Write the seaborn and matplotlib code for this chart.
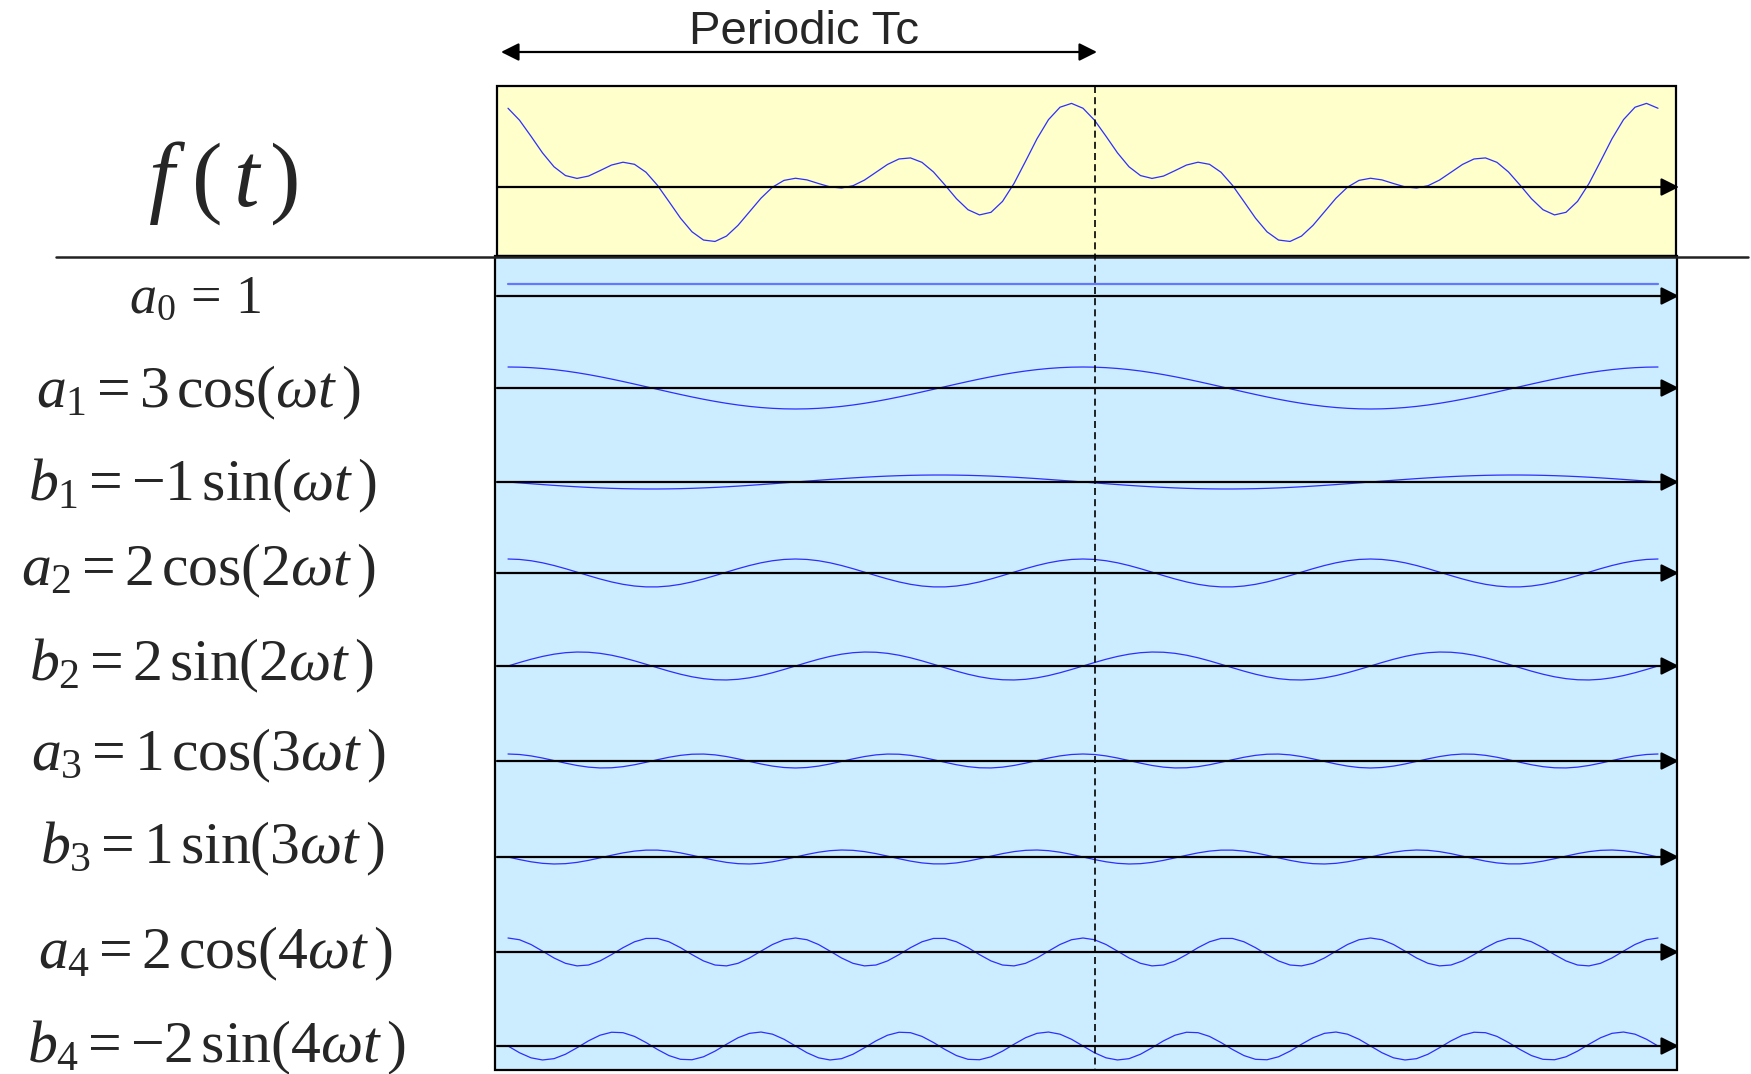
import numpy as np
import pandas as pd
import matplotlib
matplotlib.use("Agg")
import matplotlib.pyplot as plt
from matplotlib.patches import Rectangle
import seaborn as sns

sns.set_theme(style="white")
plt.rcParams["font.family"] = ["Liberation Sans", "DejaVu Sans"]
plt.rcParams["mathtext.fontset"] = "custom"
plt.rcParams["mathtext.rm"] = "Liberation Serif"
plt.rcParams["mathtext.it"] = "Liberation Serif:italic"

# Fourier coefficients of the drawn components
a0 = 1
harmonics = [1, 2, 3, 4]
cos_coef = [3, 2, 1, 2]
sin_coef = [-1, 2, -1, -2]  # b3 is labelled +1 but drawn inverted in the source figure

row_names = ["a0", "a1", "b1", "a2", "b2", "a3", "b3", "a4", "b4"]
row_labels = [
    r"$a_0 \,=\, 1$",
    r"$a_1 = 3\,\mathrm{cos}(\omega t\,)$",
    r"$b_1 = -1\,\mathrm{sin}(\omega t\,)$",
    r"$a_2 = 2\,\mathrm{cos}(2\omega t\,)$",
    r"$b_2 = 2\,\mathrm{sin}(2\omega t\,)$",
    r"$a_3 = 1\,\mathrm{cos}(3\omega t\,)$",
    r"$b_3 = 1\,\mathrm{sin}(3\omega t\,)$",
    r"$a_4 = 2\,\mathrm{cos}(4\omega t\,)$",
    r"$b_4 = -2\,\mathrm{sin}(4\omega t\,)$",
]

# time axis in periods (two periods shown, coarse sampling like the original)
t = np.linspace(0, 2, 101)

# --- layout (pixel positions of the original drawing) ---
W, H = 1751, 1074
T0_PX, PX_PER_T = 508, 575
row_base = [296, 388, 482, 573, 666, 761, 857, 952, 1046]
label_x = [195, 198, 202, 198, 201, 208, 212, 215, 216]
label_base = [312, 407, 500, 585, 680, 770, 863, 968, 1062]
comp_scale = 7.0
a0_scale = 12.0
f_base, f_scale = 187, 8.75


def tx(px):
    return (px - T0_PX) / PX_PER_T


# build component table
comps = {"a0": np.full_like(t, a0, dtype=float)}
for n, ca, sb in zip(harmonics, cos_coef, sin_coef):
    comps[f"a{n}"] = ca * np.cos(2 * np.pi * n * t)
    comps[f"b{n}"] = sb * np.sin(2 * np.pi * n * t)
f_t = sum(comps.values())

frames = []
for name, base in zip(row_names, row_base):
    scale = a0_scale if name == "a0" else comp_scale
    frames.append(pd.DataFrame({"t": t, "y": base - scale * comps[name], "row": name}))
df = pd.concat(frames, ignore_index=True)
df_f = pd.DataFrame({"t": t, "y": f_base - f_scale * f_t})

fig = plt.figure(figsize=(W / 100, H / 100), dpi=100)
ax = fig.add_axes([0, 0, 1, 1])
ax.set_xlim(tx(0), tx(W))
ax.set_ylim(H, 0)
ax.axis("off")

# background boxes
ax.add_patch(Rectangle((tx(497), 86), tx(1676) - tx(497), 170,
                       fc="#FFFFCC", ec="black", lw=1.6, zorder=1))
ax.add_patch(Rectangle((tx(495), 256), tx(1677) - tx(495), 814,
                       fc="#CCECFF", ec="black", lw=1.6, zorder=1))
ax.plot([tx(56), tx(1748)], [257, 257], color="#222222", lw=1.8, zorder=2)

# curves
sns.lineplot(data=df[df["row"] != "a0"], x="t", y="y", units="row", estimator=None,
             color="#2E2EFF", lw=0.9, ax=ax, legend=False, zorder=3)
sns.lineplot(data=df[df["row"] == "a0"], x="t", y="y", estimator=None,
             color="#6677FF", lw=1.6, ax=ax, legend=False, zorder=3)
sns.lineplot(data=df_f, x="t", y="y", estimator=None,
             color="#2E2EFF", lw=0.9, ax=ax, legend=False, zorder=3)
ax.set_xlim(tx(0), tx(W))
ax.set_ylim(H, 0)

# axis arrows
arrow = dict(arrowstyle="-|>,head_length=0.4,head_width=0.2", mutation_scale=27,
             lw=1.6, color="black", shrinkA=0, shrinkB=0)
for base in [f_base] + row_base:
    ax.annotate("", xy=(tx(1679), base), xytext=(tx(497), base),
                arrowprops=arrow, zorder=4)

# period marker
ax.annotate("", xy=(tx(501), 52), xytext=(tx(1097), 52),
            arrowprops=dict(arrowstyle="<|-|>,head_length=0.4,head_width=0.2",
                            mutation_scale=27, lw=1.6, color="black",
                            shrinkA=0, shrinkB=0))
ax.plot([tx(1095), tx(1095)], [86, 1070], color="black", lw=1.2,
        ls=(0, (4.2, 2.5)), zorder=5)
fig.text(804 / W, 1 - 44 / H, "Periodic Tc", ha="center", va="baseline", fontsize=34)

# labels
fig.text(223 / W, 1 - 206 / H, r"$f\;(\,t\,)$", ha="center", va="baseline", fontsize=66)
for i, (lab, x, yb) in enumerate(zip(row_labels, label_x, label_base)):
    fig.text(x / W, 1 - yb / H, lab, ha="center", va="baseline",
             fontsize=39 if i == 0 else 43)

fig.savefig("out.png", dpi=100)
